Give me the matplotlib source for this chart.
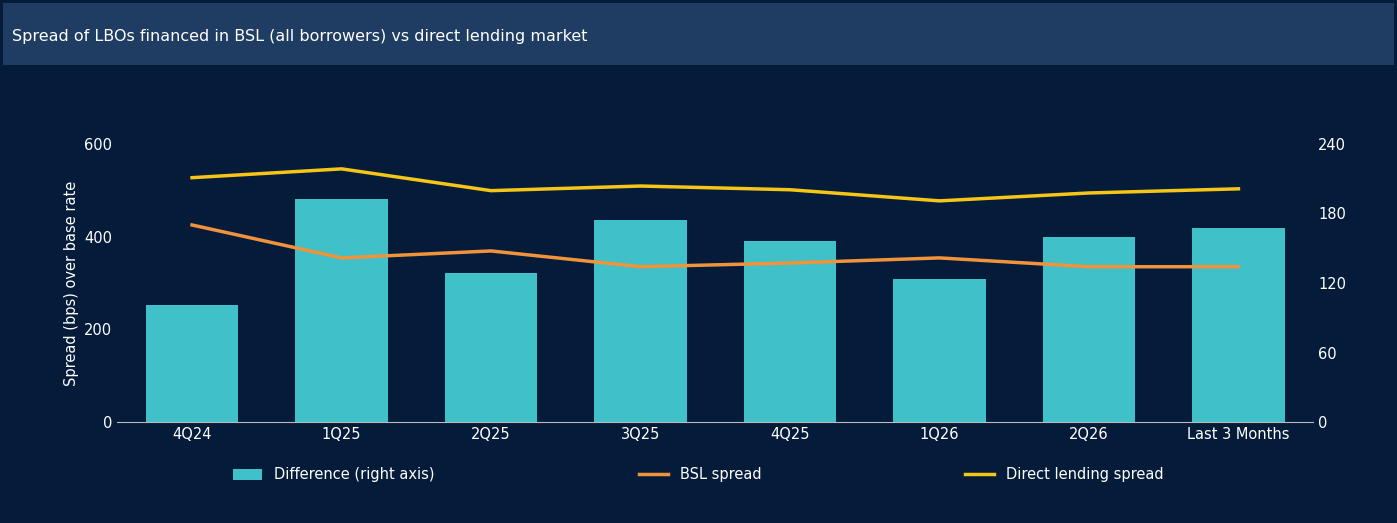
import matplotlib
matplotlib.use("Agg")
import matplotlib.pyplot as plt
from matplotlib.patches import Rectangle

categories = ["4Q24", "1Q25", "2Q25", "3Q25", "4Q25", "1Q26", "2Q26", "Last 3 Months"]
difference = [101, 192, 129, 174, 156, 123, 160, 167]
bsl_spread = [425, 354, 369, 335, 343, 354, 335, 335]
dl_spread = [527, 546, 499, 509, 501, 477, 494, 503]

bg = "#041b3a"
fig = plt.figure(figsize=(13.97, 5.23), dpi=100, facecolor=bg)
fig.patches.append(Rectangle((0.002, 1 - 65/523), 0.996, 62/523, transform=fig.transFigure,
                             facecolor="#1f3c62", edgecolor="none", zorder=0))
fig.text(12/1397, 1 - 37/523, "Spread of LBOs financed in BSL (all borrowers) vs direct lending market",
         color="white", fontsize=11.5, va="center")

ax = fig.add_axes([0.084, 0.193, 0.856, 0.532])
ax.set_facecolor(bg)
ax2 = ax.twinx()
x = list(range(len(categories)))
ax2.bar(x, difference, width=0.62, color="#40c1c9", label="Difference (right axis)", zorder=1)
ax.plot(x, bsl_spread, color="#f0933a", lw=2.5, label="BSL spread", zorder=3)
ax.plot(x, dl_spread, color="#f5c518", lw=2.5, label="Direct lending spread", zorder=3)
ax.set_zorder(ax2.get_zorder() + 1)
ax.patch.set_visible(False)
ax2.patch.set_facecolor(bg)

ax.set_ylim(0, 600); ax.set_yticks([0, 200, 400, 600])
ax2.set_ylim(0, 240); ax2.set_yticks([0, 60, 120, 180, 240])
ax.set_xlim(-0.5, 7.5)
ax.set_xticks(x); ax.set_xticklabels(categories)
for a in (ax, ax2):
    a.tick_params(colors="white", labelsize=10.5, length=0)
    for s in a.spines.values():
        s.set_visible(False)
ax.spines["bottom"].set_visible(True); ax.spines["bottom"].set_color("#bbbbbb")
ax.set_ylabel("Spread (bps) over base rate", color="white", fontsize=10.5)

h1, l1 = ax2.get_legend_handles_labels()
h2, l2 = ax.get_legend_handles_labels()
fig.legend(h1 + h2, l1 + l2, loc="center", bbox_to_anchor=(0.5, 1 - 475/523), ncol=3,
           frameon=False, labelcolor="white", fontsize=10.5, columnspacing=14, handlelength=2)
fig.savefig("out.png", facecolor=bg)
